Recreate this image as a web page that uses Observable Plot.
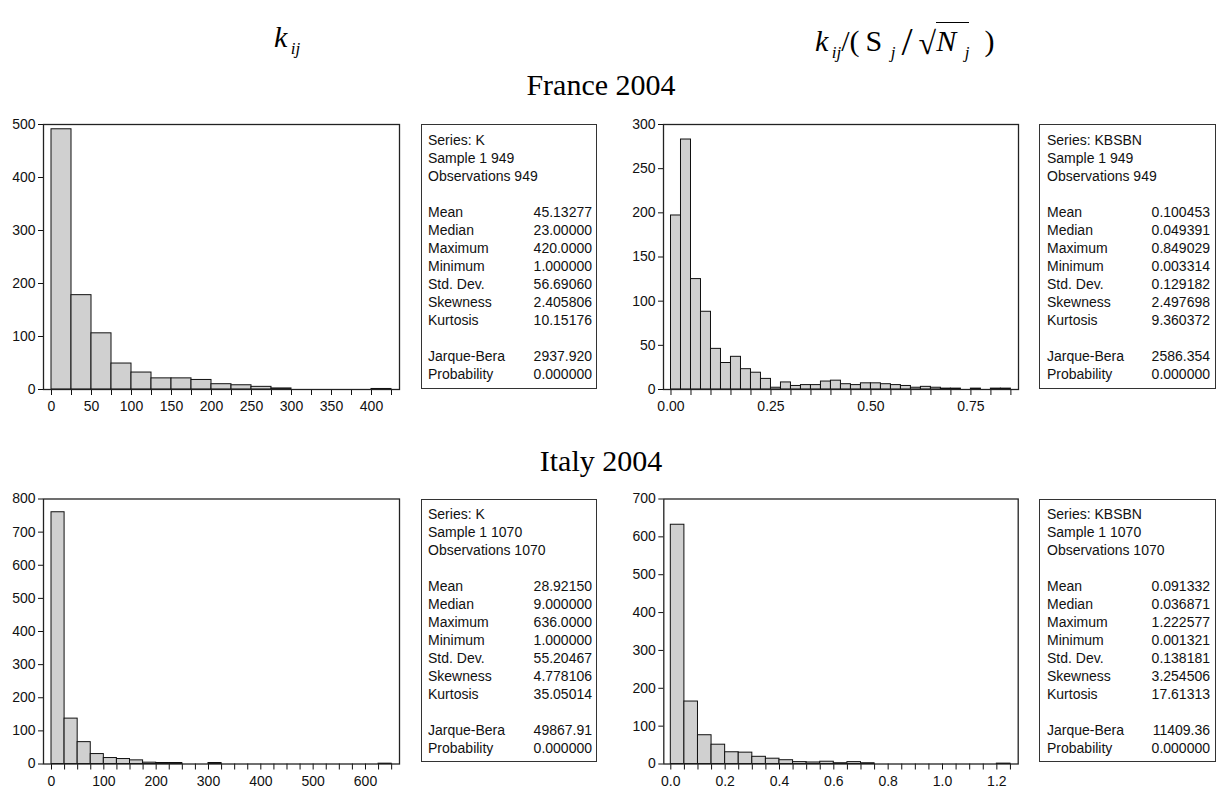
<!DOCTYPE html>
<html><head><meta charset="utf-8">
<script src="https://cdn.jsdelivr.net/npm/d3@7"></script>
<script src="https://cdn.jsdelivr.net/npm/@observablehq/plot@0.6"></script>
<style>
body{margin:0;background:#fff;}
#root{position:relative;width:1218px;height:790px;overflow:hidden;font-family:"Liberation Sans",Arial,sans-serif;background:#fff;}
.hdr{position:absolute;font-family:"Liberation Serif","Times New Roman",serif;color:#000;white-space:nowrap;line-height:1;}
.hdr sub{font-size:17px;vertical-align:-7px;}
.panel{position:absolute;}
.stats{position:absolute;border:1px solid #333;box-sizing:border-box;font-size:14px;line-height:18px;color:#111;background:#fff;}
.stats .row{display:flex;justify-content:space-between;height:18px;white-space:nowrap;}
</style></head>
<body><div id="root"></div>
<script>
// ---------------- data ----------------
const countryTitles = ["France 2004", "Italy 2004"];

// France 2004, K: bins of width 25 starting at 0
const franceK_binWidth = 25;
const franceK_counts = [491,178,106,49,32,21,21,18,10,8,5,2,0,0,0,0,1];
const franceK_xLabels = [0,50,100,150,200,250,300,350,400];
const franceK_xMinorStep = 25, franceK_xMinorMax = 425;
const franceK_yTicks = [0,100,200,300,400,500];

// France 2004, KBSBN: bins of width 0.025
const franceB_binWidth = 0.025;
const franceB_counts = [197,283,125,88,46,30,37,23,19,12,2,8,4,5,5,9,10,6,5,7,7,6,5,4,2,3,2,1,1,0,1,0,1,1];
const franceB_xLabels = [0,0.25,0.5,0.75];
const franceB_xMinorStep = 0.05, franceB_xMinorMax = 0.85;
const franceB_yTicks = [0,50,100,150,200,250,300];

// Italy 2004, K: bins of width 25
const italyK_binWidth = 25;
const italyK_counts = [760,137,66,30,18,15,11,4,3,3,0,0,3,0,0,0,0,0,0,0,0,0,0,0,0,1];
const italyK_xLabels = [0,100,200,300,400,500,600];
const italyK_xMinorStep = 25, italyK_xMinorMax = 650;
const italyK_yTicks = [0,100,200,300,400,500,600,700,800];

// Italy 2004, KBSBN: bins of width 0.05
const italyB_binWidth = 0.05;
const italyB_counts = [632,165,76,51,31,30,19,14,10,5,4,6,2,5,2,0,0,0,0,0,0,0,0,0,1];
const italyB_xLabels = [0,0.2,0.4,0.6,0.8,1.0,1.2];
const italyB_xMinorStep = 0.05, italyB_xMinorMax = 1.25;
const italyB_yTicks = [0,100,200,300,400,500,600,700];

// descriptive statistics
const statLabels = ["Mean","Median","Maximum","Minimum","Std. Dev.","Skewness","Kurtosis"];
const testLabels = ["Jarque-Bera","Probability"];
const franceK_stats = ["45.13277","23.00000","420.0000","1.000000","56.69060","2.405806","10.15176"];
const franceK_tests = ["2937.920","0.000000"];
const franceB_stats = ["0.100453","0.049391","0.849029","0.003314","0.129182","2.497698","9.360372"];
const franceB_tests = ["2586.354","0.000000"];
const italyK_stats = ["28.92150","9.000000","636.0000","1.000000","55.20467","4.778106","35.05014"];
const italyK_tests = ["49867.91","0.000000"];
const italyB_stats = ["0.091332","0.036871","1.222577","0.001321","0.138181","3.254506","17.61313"];
const italyB_tests = ["11409.36","0.000000"];

// ---------------- drawing ----------------
const root = document.getElementById("root");

function hist(o) {
  const data = o.counts.map((c, i) => ({x1: i * o.binW, x2: (i + 1) * o.binW, y: c}));
  const nMinor = Math.round(o.minorMax / o.minorStep);
  const ticks = d3.range(nMinor + 1).map(i => +(i * o.minorStep).toFixed(6));
  const isLab = d => o.xLabels.some(l => Math.abs(l - d) < 1e-9);
  const svg = Plot.plot({
    width: o.width, height: o.height,
    marginLeft: o.ml, marginRight: o.mr, marginTop: o.mt, marginBottom: o.mb,
    style: {fontFamily: "'Liberation Sans', Arial, sans-serif", fontSize: "14px", color: "#111", background: "transparent", overflow: "visible"},
    x: {domain: o.xDomain},
    y: {domain: o.yDomain},
    marks: [
      Plot.rectY(data, {x1: "x1", x2: "x2", y: "y", fill: "#d0d0d0", stroke: "#111", strokeWidth: 1}),
      Plot.axisX({ticks, tickSize: 6, tickPadding: 6, tickFormat: d => isLab(d) ? o.fmt(d) : "", label: null, stroke: "#111"}),
      Plot.axisY({ticks: o.yTicks, tickSize: 5, tickPadding: 3, label: null, stroke: "#111"}),
      Plot.frame({stroke: "#222", strokeWidth: 1.3})
    ]
  });
  svg.classList.add("panel");
  svg.style.left = o.left + "px";
  svg.style.top = o.top + "px";
  root.appendChild(svg);
}

function statsBox(series, nobs, stats, tests, left, top, width, height, pl, pr, pt) {
  const div = document.createElement("div");
  div.className = "stats";
  Object.assign(div.style, {left: left + "px", top: top + "px", width: width + "px", height: height + "px",
    padding: `${pt}px ${pr}px 0 ${pl}px`});
  const lines = [[`Series: ${series}`, ""], [`Sample 1 ${nobs}`, ""], [`Observations ${nobs}`, ""], ["", ""]]
    .concat(statLabels.map((l, i) => [l, stats[i]]))
    .concat([["", ""]])
    .concat(testLabels.map((l, i) => [l, tests[i]]));
  for (const [a, b] of lines) {
    const r = document.createElement("div");
    r.className = "row";
    const s1 = document.createElement("span"); s1.textContent = a;
    const s2 = document.createElement("span"); s2.textContent = b;
    r.appendChild(s1); r.appendChild(s2);
    div.appendChild(r);
  }
  root.appendChild(div);
}

const fmtInt = d => String(d);
const fmt2 = d => d.toFixed(2);
const fmt1 = d => d.toFixed(1);

hist({counts: franceK_counts, binW: franceK_binWidth, xLabels: franceK_xLabels, minorStep: franceK_xMinorStep, minorMax: franceK_xMinorMax,
  yTicks: franceK_yTicks, xDomain: [-10, 435], yDomain: [0, 500], fmt: fmtInt,
  left: 0, top: 100, width: 420, height: 330, ml: 43, mr: 21, mt: 24, mb: 41});
hist({counts: franceB_counts, binW: franceB_binWidth, xLabels: franceB_xLabels, minorStep: franceB_xMinorStep, minorMax: franceB_xMinorMax,
  yTicks: franceB_yTicks, xDomain: [-0.01875, 0.869], yDomain: [0, 300], fmt: fmt2,
  left: 600, top: 100, width: 430, height: 330, ml: 63, mr: 12, mt: 24, mb: 41});
hist({counts: italyK_counts, binW: italyK_binWidth, xLabels: italyK_xLabels, minorStep: italyK_xMinorStep, minorMax: italyK_xMinorMax,
  yTicks: italyK_yTicks, xDomain: [-15.3, 665], yDomain: [0, 800], fmt: fmtInt,
  left: 0, top: 470, width: 420, height: 320, ml: 43, mr: 21, mt: 28.5, mb: 26.5});
hist({counts: italyB_counts, binW: italyB_binWidth, xLabels: italyB_xLabels, minorStep: italyB_xMinorStep, minorMax: italyB_xMinorMax,
  yTicks: italyB_yTicks, xDomain: [-0.0258, 1.2786], yDomain: [0, 700], fmt: fmt1,
  left: 600, top: 470, width: 430, height: 320, ml: 63.3, mr: 12.3, mt: 28.5, mb: 26.5});

statsBox("K", 949, franceK_stats, franceK_tests, 421, 124, 176, 265, 6, 4, 6);
statsBox("KBSBN", 949, franceB_stats, franceB_tests, 1039, 124, 177, 265, 7, 5, 6);
statsBox("K", 1070, italyK_stats, italyK_tests, 421, 499, 176, 263, 6, 4, 5);
statsBox("KBSBN", 1070, italyB_stats, italyB_tests, 1039, 499, 177, 263, 7, 5, 5);

// headers
function addHdr(html, left, top, size) {
  const s = document.createElement("div");
  s.className = "hdr";
  s.style.left = left + "px"; s.style.top = top + "px"; s.style.fontSize = size + "px";
  s.innerHTML = html;
  root.appendChild(s);
}
addHdr(`<i>k</i><sub>&thinsp;<i>ij</i></sub>`, 274, 22, 30);
addHdr(`<i>k</i><sub>&thinsp;<i>ij</i></sub>/(&thinsp;S<sub>&ensp;<i>j</i></sub>&thinsp;<span style="font-size:40px;vertical-align:-4px">/</span>&thinsp;<span style="font-size:32px;vertical-align:-3px">√</span><span style="border-top:1px solid #000;padding-top:1px"><i>N</i><sub>&ensp;<i>j</i></sub></span>&ensp;)`, 815, 22, 30);
function addTitle(text, cx, top) {
  const s = document.createElement("div");
  s.className = "hdr";
  s.style.left = (cx - 200) + "px"; s.style.width = "400px"; s.style.textAlign = "center";
  s.style.top = top + "px"; s.style.fontSize = "30px";
  s.textContent = text;
  root.appendChild(s);
}
addTitle(countryTitles[0], 601, 70);
addTitle(countryTitles[1], 601, 446);
</script></body></html>
